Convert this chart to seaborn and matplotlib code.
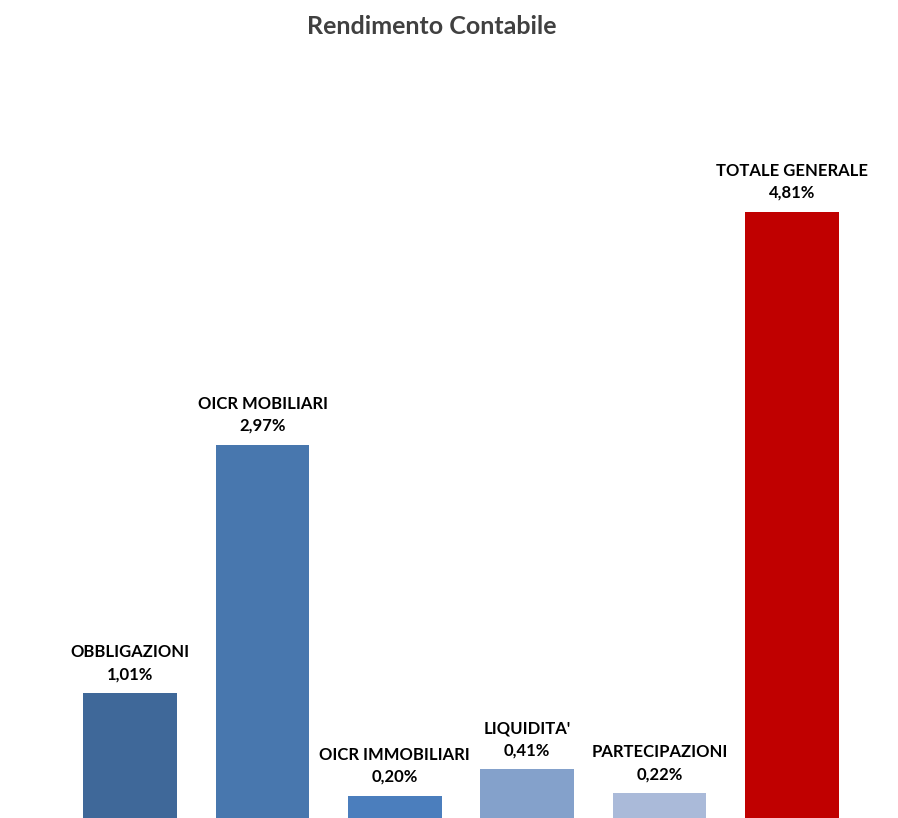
import matplotlib
matplotlib.use("Agg")
import matplotlib.pyplot as plt
import seaborn as sns
import pandas as pd

# Accounting return by asset class (percent)
categories = ["OBBLIGAZIONI", "OICR MOBILIARI", "OICR IMMOBILIARI",
              "LIQUIDITA'", "PARTECIPAZIONI", "TOTALE GENERALE"]
values = [1.01, 2.97, 0.20, 0.41, 0.22, 4.81]
colors = ["#3F6899", "#4877AE", "#4B7EBD", "#84A1CB", "#AABAD9", "#C00000"]
title = "Rendimento Contabile"

sns.set_theme(style="white")
plt.rcParams["font.family"] = ["Lato", "DejaVu Sans"]

df = pd.DataFrame({"categoria": categories, "rendimento": values})

fig = plt.figure(figsize=(8.98, 8.18), dpi=100)
ax = fig.add_axes([64 / 898, -3 / 818, 794 / 898, 760 / 818])

sns.barplot(data=df, x="categoria", y="rendimento", hue="categoria",
            palette=colors, order=categories, hue_order=categories,
            width=0.71, saturation=1, legend=False, linewidth=0, ax=ax)

ax.set_ylim(0, 6)
ax.set_xlim(-0.5, len(categories) - 0.5)
ax.axis("off")

for i, (cat, val) in enumerate(zip(categories, values)):
    label = f"{cat}\n{val:.2f}".replace(".", ",") + "%"
    ax.annotate(label, xy=(i, val), xytext=(0, 11), textcoords="offset pixels",
                ha="center", va="bottom", fontsize=12, fontweight="bold",
                color="black", linespacing=1.45)

fig.text(432 / 898, 1 - 26 / 818, title, ha="center", va="center",
         fontsize=18, fontweight="bold", color="#404040")

fig.savefig("out.png", dpi=100, facecolor="white")
